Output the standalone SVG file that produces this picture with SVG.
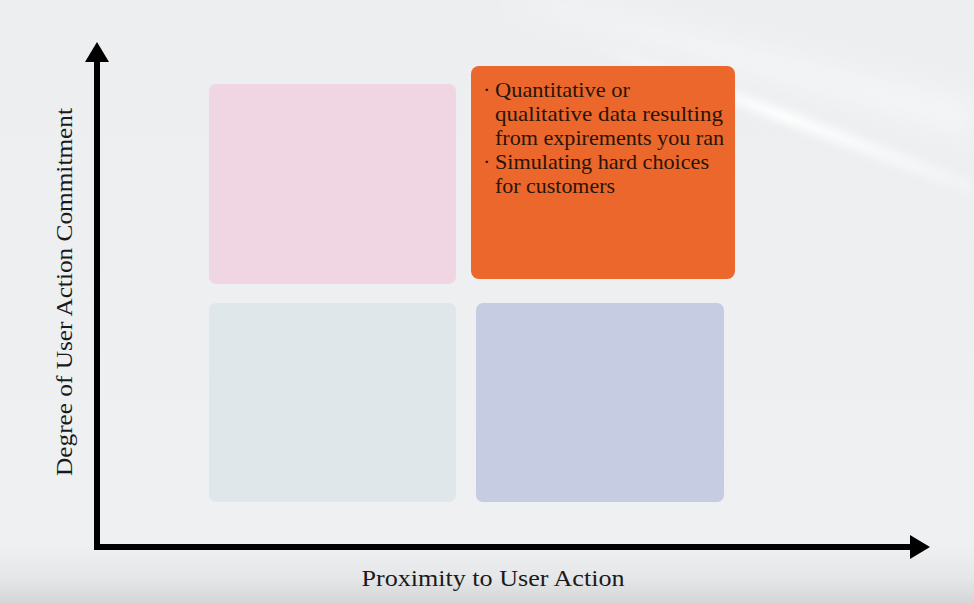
<svg xmlns="http://www.w3.org/2000/svg" width="974" height="604" viewBox="0 0 974 604">
<defs>
<linearGradient id="bg" x1="0" y1="0" x2="0" y2="1">
<stop offset="0" stop-color="#eceef0"/>
<stop offset="0.9" stop-color="#eff0f2"/>
<stop offset="0.955" stop-color="#e6e7e9"/>
<stop offset="1" stop-color="#d4d5d7"/>
</linearGradient>
<linearGradient id="streak" x1="0" y1="0" x2="1" y2="0">
<stop offset="0" stop-color="#ffffff" stop-opacity="0"/>
<stop offset="0.5" stop-color="#ffffff" stop-opacity="1"/>
<stop offset="1" stop-color="#ffffff" stop-opacity="0.2"/>
</linearGradient>
<filter id="blur" x="-20%" y="-50%" width="140%" height="200%"><feGaussianBlur stdDeviation="4"/></filter>
<filter id="blur2" x="-20%" y="-50%" width="140%" height="200%"><feGaussianBlur stdDeviation="14"/></filter>
<marker id="ah" viewBox="0 0 20 24" refX="2" refY="12" markerWidth="20" markerHeight="24" markerUnits="userSpaceOnUse" orient="auto">
<path d="M0,0 L20,12 L0,24 Z" fill="#000"/>
</marker>
</defs>
<style>
.lbl{font-family:"Liberation Serif","DejaVu Serif",serif;font-size:24px;fill:#1a1a1a}
.body{font-family:"Liberation Serif","DejaVu Serif",serif;font-size:22px;fill:#2a1408}
.axis{stroke:#000;stroke-width:6;fill:none}
</style>
<rect width="974" height="604" fill="url(#bg)"/>
<path d="M500,0 L974,140 L974,100 L560,0 Z" fill="#f8f8f9" opacity="0.7" filter="url(#blur2)"/>
<path d="M590,38 L974,180 L974,196 L590,48 Z" fill="url(#streak)" filter="url(#blur)"/>
<g id="node-pink"><rect x="209" y="84" width="247" height="200" rx="7" fill="#f0d6e3"/></g>
<g id="node-orange"><rect x="471" y="66" width="264" height="213" rx="8" fill="#eb672c"/>
<text class="body"><tspan x="483" y="97">·</tspan><tspan x="495" y="97" textLength="135" lengthAdjust="spacingAndGlyphs">Quantitative or</tspan><tspan x="495" y="121" textLength="228" lengthAdjust="spacingAndGlyphs">qualitative data resulting</tspan><tspan x="495" y="145" textLength="229" lengthAdjust="spacingAndGlyphs">from expirements you ran</tspan><tspan x="483" y="169">·</tspan><tspan x="495" y="169" textLength="214" lengthAdjust="spacingAndGlyphs">Simulating hard choices</tspan><tspan x="495" y="193" textLength="120" lengthAdjust="spacingAndGlyphs">for customers</tspan></text>
</g>
<g id="node-grey"><rect x="209" y="303" width="247" height="199" rx="7" fill="#e0e7eb"/></g>
<g id="node-lavender"><rect x="476" y="303" width="248" height="199" rx="7" fill="#c6cde2"/></g>
<g id="connectors">
<path class="axis" d="M97,550 L97,60" marker-end="url(#ah)"/>
<path class="axis" d="M94,547 L912,547" marker-end="url(#ah)"/>
</g>
<text class="lbl" x="493" y="586" text-anchor="middle" textLength="263" lengthAdjust="spacingAndGlyphs">Proximity to User Action</text>
<text class="lbl" transform="translate(72,292) rotate(-90)" text-anchor="middle" textLength="368" lengthAdjust="spacingAndGlyphs">Degree of User Action Commitment</text>
</svg>
